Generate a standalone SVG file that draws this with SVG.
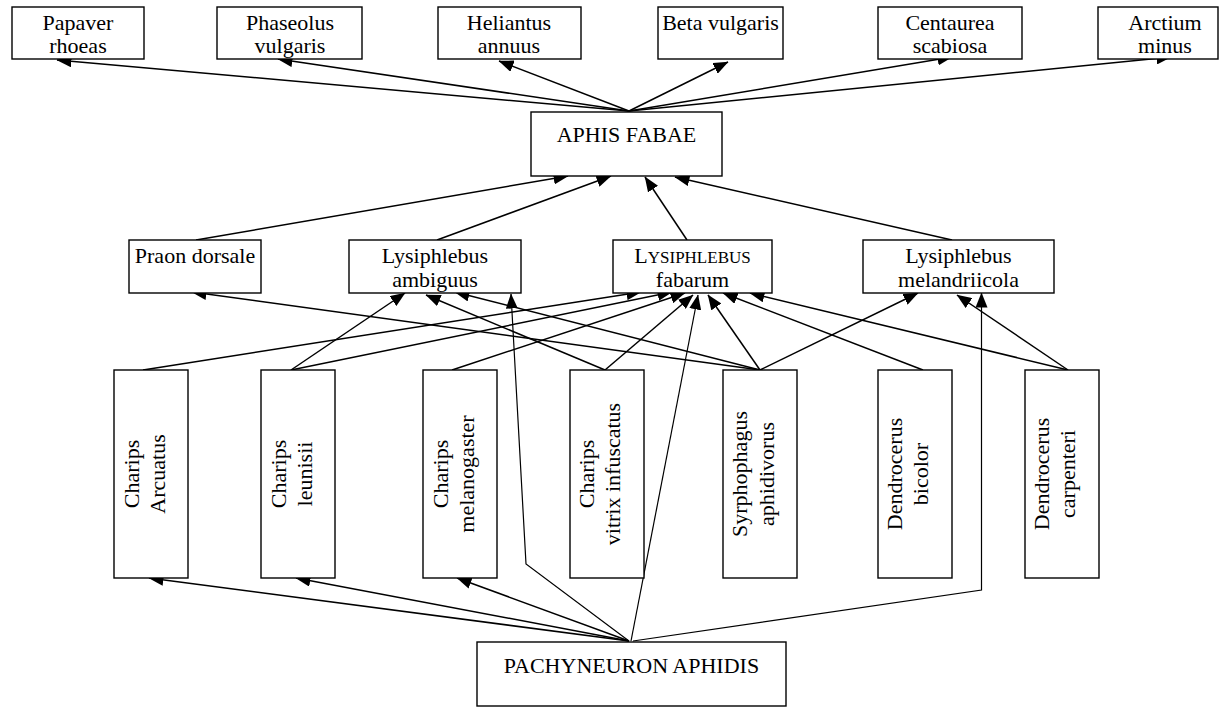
<svg xmlns="http://www.w3.org/2000/svg" width="1220" height="707" viewBox="0 0 1220 707">
<style>
.b{fill:#fff;stroke:#000;stroke-width:1.4}
.t{font-family:"Liberation Serif","Times New Roman",serif;font-size:22px;text-anchor:middle;fill:#000}
.c{fill:none;stroke:#000;stroke-width:1.5;marker-end:url(#ah)}
.p{fill:none;stroke:#000;stroke-width:1.2;marker-end:url(#ah)}
</style>
<defs>
<marker id="ah" markerUnits="userSpaceOnUse" markerWidth="15" markerHeight="12" viewBox="0 0 15 12" refX="14.5" refY="6" orient="auto">
<path d="M0,0 L15,6 L0,12 z" fill="#000"/>
</marker>
</defs>
<rect width="1220" height="707" fill="#fff"/>
<g id="connectors">
<path class="c" d="M629,111 L57,60"/>
<path class="c" d="M629,111 L278,59"/>
<path class="c" d="M629,111 L499,61"/>
<path class="c" d="M629,111 L728,62"/>
<path class="c" d="M629,111 L952,57"/>
<path class="c" d="M629,111 L1171,57"/>
<path class="c" d="M196,240 L568,176"/>
<path class="c" d="M437,240 L611,176"/>
<path class="c" d="M687,240 L645,177"/>
<path class="c" d="M952,240 L675,177"/>
<path class="c" d="M760,370 L192,292"/>
<path class="c" d="M291,370 L405,293"/>
<path class="c" d="M605,370 L426,295"/>
<path class="c" d="M760,370 L455,292"/>
<path class="c" d="M143,370 L641,292"/>
<path class="c" d="M291,370 L672,292"/>
<path class="c" d="M452,370 L685,293"/>
<path class="c" d="M605,370 L693,295"/>
<path class="c" d="M760,370 L708,295"/>
<path class="c" d="M923,370 L723,293"/>
<path class="c" d="M1068,370 L750,293"/>
<path class="c" d="M760,370 L918,293"/>
<path class="c" d="M1068,370 L957,295"/>
<path class="c" d="M629,641 L149,578"/>
<path class="c" d="M629,641 L296,578"/>
<path class="c" d="M629,641 L457,578"/>
<path class="p" d="M629,641 L526,564 L511,294"/>
<path class="p" d="M631,641 L698,295"/>
<path class="p" d="M633,641 L981.5,590 L981.5,293"/>
</g>
<g id="papaver"><rect class="b" x="12" y="7" width="132" height="52"/><text class="t" x="78" y="30">Papaver</text><text class="t" x="78" y="53">rhoeas</text></g>
<g id="phaseolus"><rect class="b" x="217" y="7" width="145" height="52"/><text class="t" x="290" y="30">Phaseolus</text><text class="t" x="290" y="53">vulgaris</text></g>
<g id="heliantus"><rect class="b" x="438" y="7" width="143" height="52"/><text class="t" x="509" y="30">Heliantus</text><text class="t" x="509" y="53">annuus</text></g>
<g id="beta"><rect class="b" x="658" y="7" width="125" height="52"/><text class="t" x="720.5" y="30">Beta vulgaris</text></g>
<g id="centaurea"><rect class="b" x="878" y="7" width="144" height="52"/><text class="t" x="950" y="30">Centaurea</text><text class="t" x="950" y="53">scabiosa</text></g>
<g id="arctium"><rect class="b" x="1098" y="7" width="120" height="52"/><text class="t" x="1165" y="30">Arctium</text><text class="t" x="1165" y="53">minus</text></g>
<g id="aphis"><rect class="b" x="531" y="112" width="191" height="64"/><text class="t" x="626.5" y="142">APHIS FABAE</text></g>
<g id="praon"><rect class="b" x="129" y="240" width="132" height="53"/><text class="t" x="195" y="263">Praon dorsale</text></g>
<g id="ambiguus"><rect class="b" x="349" y="240" width="172" height="53"/><text class="t" x="435" y="263">Lysiphlebus</text><text class="t" x="435" y="287">ambiguus</text></g>
<g id="fabarum"><rect class="b" x="613" y="240" width="159" height="53"/><text class="t" x="692.5" y="263">L<tspan font-size="17">YSIPHLEBUS</tspan></text><text class="t" x="692.5" y="287">fabarum</text></g>
<g id="melandriicola"><rect class="b" x="863" y="240" width="191" height="53"/><text class="t" x="958.5" y="263">Lysiphlebus</text><text class="t" x="958.5" y="287">melandriicola</text></g>
<g id="arcuatus"><rect class="b" x="114" y="370" width="74" height="208"/><text class="t" transform="translate(139,474) rotate(-90)">Charips</text><text class="t" transform="translate(165,474) rotate(-90)">Arcuatus</text></g>
<g id="leunisii"><rect class="b" x="261" y="370" width="74" height="208"/><text class="t" transform="translate(286,474) rotate(-90)">Charips</text><text class="t" transform="translate(312,474) rotate(-90)">leunisii</text></g>
<g id="melanogaster"><rect class="b" x="423" y="370" width="74" height="208"/><text class="t" transform="translate(448,474) rotate(-90)">Charips</text><text class="t" transform="translate(474,474) rotate(-90)">melanogaster</text></g>
<g id="vitrix"><rect class="b" x="570" y="370" width="74" height="208"/><text class="t" transform="translate(594,474) rotate(-90)">Charips</text><text class="t" transform="translate(620,474) rotate(-90)">vitrix infuscatus</text></g>
<g id="syrphophagus"><rect class="b" x="723" y="370" width="74" height="208"/><text class="t" transform="translate(747,474) rotate(-90)">Syrphophagus</text><text class="t" transform="translate(774,474) rotate(-90)">aphidivorus</text></g>
<g id="bicolor"><rect class="b" x="878" y="370" width="74" height="208"/><text class="t" transform="translate(902,474) rotate(-90)">Dendrocerus</text><text class="t" transform="translate(928,474) rotate(-90)">bicolor</text></g>
<g id="carpenteri"><rect class="b" x="1025" y="370" width="74" height="208"/><text class="t" transform="translate(1049,474) rotate(-90)">Dendrocerus</text><text class="t" transform="translate(1075,474) rotate(-90)">carpenteri</text></g>
<g id="pachyneuron"><rect class="b" x="477" y="642" width="309" height="64"/><text class="t" x="631.5" y="673">PACHYNEURON APHIDIS</text></g>
</svg>
